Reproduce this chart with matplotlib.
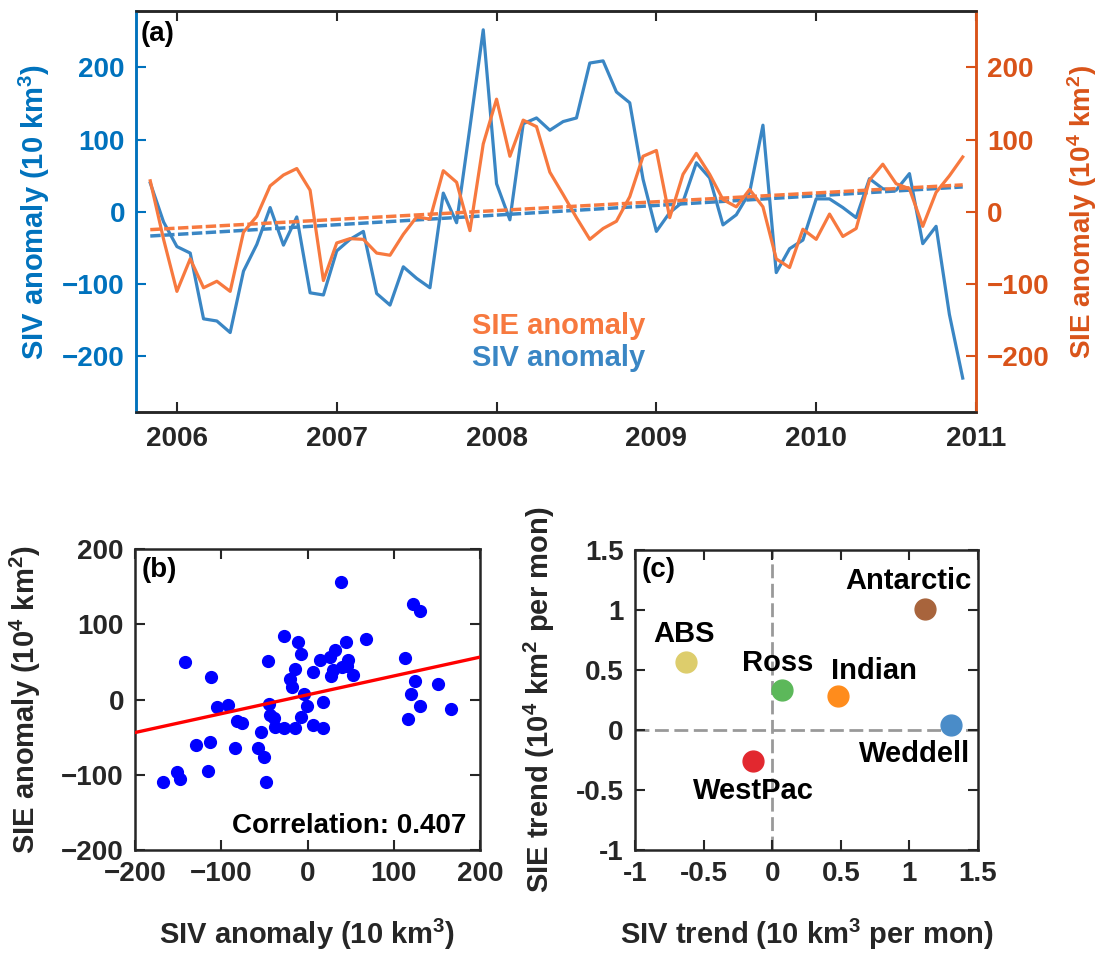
import numpy as np
import matplotlib
matplotlib.use("Agg")
import matplotlib.pyplot as plt

plt.rcParams['font.family'] = ['Liberation Sans', 'DejaVu Sans']
plt.rcParams['font.weight'] = 'bold'
plt.rcParams['mathtext.fontset'] = 'custom'
plt.rcParams['mathtext.rm'] = 'Liberation Sans:bold'
plt.rcParams['mathtext.default'] = 'rm'

# monthly anomalies, Nov 2005 - Dec 2010
siv = [40, -14, -48, -57, -148, -151, -167, -82, -45, 6, -46, -7,
       -112, -115, -54, -38, -27, -113, -129, -76, -92, -105, 26, -15,
       117, 252, 39, -11, 122, 130, 113, 125, 130, 206, 209, 166,
       151, 45, -27, -1, 14, 68, 47, -18, -4, 27, 120, -84,
       -51, -39, 18, 18, 6, -8, 46, 32, 30, 53, -44, -20,
       -142, -230]
sie = [43, -38, -110, -65, -105, -96, -110, -28, -6, 36, 51, 60,
       30, -95, -43, -37, -38, -57, -60, -31, -7, -10, 57, 41,
       -26, 94, 156, 77, 127, 118, 55, 24, -8, -38, -23, -13,
       21, 77, 85, -8, 52, 81, 52, 17, 7, 31, 7, -65,
       -77, -24, -38, -3, -34, -23, 44, 66, 39, 32, -20, 27,
       50, 76]
t = 2005 + 10 / 12 + np.arange(len(siv)) / 12

# regional trends
regions = ['Antarctic', 'ABS', 'Ross', 'Indian', 'Weddell', 'WestPac']
siv_trend = [1.11, -0.63, 0.07, 0.48, 1.30, -0.14]
sie_trend = [1.01, 0.57, 0.33, 0.28, 0.04, -0.26]
reg_colors = ['#A8643C', '#DDCD6C', '#5CB85A', '#FF8C1C', '#4A8CC8', '#E2282F']
label_xy = [(0.99, 1.24), (-0.64, 0.80), (0.04, 0.555), (0.74, 0.494), (1.04, -0.20), (-0.14, -0.51)]

dark = '#262626'
blue_ax = '#0072BD'
orange_ax = '#D95319'
blue_ln = '#3A86C4'
orange_ln = '#F7793F'
fs = 20

fig = plt.figure(figsize=(11.02, 9.58), dpi=100)

# ---- (a)
ax = fig.add_axes([0.1234, 0.5699, 0.7623, 0.4186])
ax2 = ax.twinx()
ax.plot(t, siv, color=blue_ln, lw=2.3, zorder=3)
p = np.polyfit(t, siv, 1)
ax.plot(t, np.polyval(p, t), color=blue_ln, lw=2.5, ls=(0, (3, 1)), zorder=4)
ax2.plot(t, sie, color=orange_ln, lw=2.3, zorder=3)
p2 = np.polyfit(t, sie, 1)
ax2.plot(t, np.polyval(p2, t), color=orange_ln, lw=2.5, ls=(0, (3, 1)), zorder=4)
for a in (ax, ax2):
    a.set_ylim(-277, 278)
    a.set_yticks([-200, -100, 0, 100, 200])
ax.set_xlim(2005.744, 2011.0)
ax.set_xticks([2006, 2007, 2008, 2009, 2010, 2011])
ax.tick_params(axis='x', direction='in', top=True, length=7, width=1.5,
               colors=dark, labelsize=fs, pad=10)
ax.tick_params(axis='y', direction='in', length=7, width=1.5,
               colors=blue_ax, labelsize=fs, pad=8)
ax2.tick_params(axis='y', direction='in', length=7, width=1.5,
                colors=orange_ax, labelsize=fs, pad=8)
for a in (ax, ax2):
    for s in a.spines.values():
        s.set_linewidth(1.8)
        s.set_color(dark)
    a.spines['left'].set_color(blue_ax)
    a.spines['right'].set_color(orange_ax)
ax.set_ylabel('SIV anomaly (10 km$^{3}$)', color=blue_ax, fontsize=21, fontweight='bold')
ax.yaxis.set_label_coords(-0.100, 0.5)
ax2.set_ylabel('SIE anomaly (10$^{4}$ km$^{2}$)', color=orange_ax, fontsize=20, fontweight='bold')
ax2.yaxis.set_label_coords(1.106, 0.5)
ax.text(0.006, 0.975, '(a)', transform=ax.transAxes, fontsize=fs, fontweight='bold',
        va='top', ha='left', color='black')
ax.text(0.4, 0.215, 'SIE anomaly', transform=ax.transAxes, fontsize=21,
        fontweight='bold', color=orange_ln, va='center', ha='left')
ax.text(0.4, 0.135, 'SIV anomaly', transform=ax.transAxes, fontsize=21,
        fontweight='bold', color=blue_ln, va='center', ha='left')

# ---- (b)
bx = fig.add_axes([0.1225, 0.1127, 0.3131, 0.3142])
sv = np.array(siv)
se = np.array(sie)
inside = (np.abs(sv) <= 200) & (np.abs(se) <= 200)
bx.plot(sv[inside], se[inside], 'o', color='#0000FF', ms=8.5, mec='#0000FF', zorder=3)
pb = np.polyfit(sv, se, 1)
xx = np.array([-200, 200])
bx.plot(xx, np.polyval(pb, xx), color='red', lw=2.4, zorder=4)
bx.set_xlim(-200, 200)
bx.set_ylim(-200, 200)
bx.set_xticks([-200, -100, 0, 100, 200])
bx.set_yticks([-200, -100, 0, 100, 200])
bx.text(0.96, 0.035, 'Correlation: 0.407', transform=bx.transAxes, fontsize=fs,
        fontweight='bold', ha='right', va='bottom')
bx.text(0.02, 0.975, '(b)', transform=bx.transAxes, fontsize=fs, fontweight='bold',
        va='top', ha='left')
bx.set_xlabel('SIV anomaly (10 km$^{3}$)', fontsize=21, fontweight='bold', color=dark)
bx.set_ylabel('SIE anomaly (10$^{4}$ km$^{2}$)', fontsize=21, fontweight='bold', color=dark)
bx.xaxis.set_label_coords(0.5, -0.223)
bx.yaxis.set_label_coords(-0.267, 0.5)

# ---- (c)
cx = fig.add_axes([0.5762, 0.1127, 0.3113, 0.3132])
cx.axhline(0, color='#999999', lw=2, ls=(0, (5, 2)), zorder=1)
cx.axvline(0, color='#999999', lw=2, ls=(0, (5, 2)), zorder=1)
for name, xv, yv, c, (lx, ly) in zip(regions, siv_trend, sie_trend, reg_colors, label_xy):
    cx.plot(xv, yv, 'o', color=c, ms=15, mec=c, zorder=3)
    cx.text(lx, ly, name, fontsize=21, fontweight='bold', ha='center', va='center')
cx.set_xlim(-1, 1.5)
cx.set_ylim(-1, 1.5)
cx.set_xticks([-1, -0.5, 0, 0.5, 1, 1.5])
cx.set_yticks([-1, -0.5, 0, 0.5, 1, 1.5])
cx.set_xticklabels(['-1', '-0.5', '0', '0.5', '1', '1.5'])
cx.set_yticklabels(['-1', '-0.5', '0', '0.5', '1', '1.5'])
cx.text(0.02, 0.975, '(c)', transform=cx.transAxes, fontsize=fs, fontweight='bold',
        va='top', ha='left')
cx.set_xlabel('SIV trend (10 km$^{3}$ per mon)', fontsize=21, fontweight='bold', color=dark)
cx.set_ylabel('SIE trend (10$^{4}$ km$^{2}$ per mon)', fontsize=21, fontweight='bold', color=dark)
cx.xaxis.set_label_coords(0.5, -0.223)
cx.yaxis.set_label_coords(-0.227, 0.5)

for a in (bx, cx):
    a.tick_params(direction='in', top=True, right=True, length=7, width=1.5,
                  colors=dark, labelsize=fs, pad=8)
    for s in a.spines.values():
        s.set_linewidth(1.8)
        s.set_color(dark)

fig.savefig('out.png', dpi=100)
